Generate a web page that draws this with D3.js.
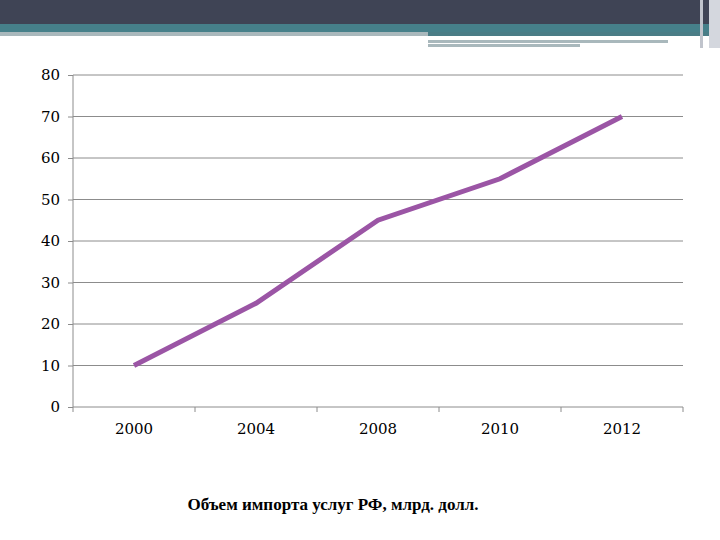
<!DOCTYPE html><html><head><meta charset="utf-8"><script src="https://d3js.org/d3.v7.min.js"></script><style>body{margin:0}</style></head><body><script>
const categories=["2000","2004","2008","2010","2012"];
const values=[10,25,45,55,70];
const yTicks=[0,10,20,30,40,50,60,70,80];
const title="Объем импорта услуг РФ, млрд. долл.";
const svg=d3.select("body").append("svg").attr("width",720).attr("height",540);
svg.append("rect").attr("width",720).attr("height",540).attr("fill","#fff");
svg.append("rect").attr("width",720).attr("height",24).attr("fill","#3f4455");
svg.append("rect").attr("y",24).attr("width",720).attr("height",8).attr("fill","#46808a");
svg.append("rect").attr("y",32).attr("width",428).attr("height",4).attr("fill","#a9b8bc");
svg.append("rect").attr("x",428).attr("y",32).attr("width",292).attr("height",4).attr("fill","#4a7d86");
svg.append("rect").attr("x",428).attr("y",40).attr("width",240).attr("height",3).attr("fill","#a9b8bc");
svg.append("rect").attr("x",428).attr("y",44).attr("width",152).attr("height",3).attr("fill","#a9b8bc");
svg.append("rect").attr("x",700).attr("y",0).attr("width",3).attr("height",48).attr("fill","#c0c4cc");
svg.append("rect").attr("x",709).attr("y",0).attr("width",11).attr("height",48).attr("fill","#d4d7de");
const x=d3.scaleBand().domain(categories).range([73,683]);
const y=d3.scaleLinear().domain([0,80]).range([407,75]);
const f="'DejaVu Serif',serif";
svg.append("g").selectAll("line").data(yTicks.slice(1)).join("line")
 .attr("x1",73).attr("x2",683).attr("y1",d=>y(d)).attr("y2",d=>y(d)).attr("stroke","#8c8c8c");
const ya=svg.append("g").attr("transform","translate(73,0)").call(d3.axisLeft(y).tickValues(yTicks).tickSize(5).tickPadding(8));
ya.selectAll("text").attr("font-family",f).attr("font-size",15).attr("fill","#000");
ya.selectAll("line,path").attr("stroke","#8c8c8c");
ya.select("path").attr("d","M0,75V407");
const xa=svg.append("g").attr("transform","translate(0,407)").call(d3.axisBottom(x).tickSize(0).tickPadding(16));
xa.selectAll("text").attr("font-family",f).attr("font-size",15).attr("fill","#000");
xa.select("path").attr("stroke","#8c8c8c").attr("d","M73,0H683");
svg.append("g").selectAll("line").data(categories.map((c,i)=>x(c)).concat([683])).join("line")
 .attr("x1",d=>d).attr("x2",d=>d).attr("y1",407).attr("y2",412).attr("stroke","#8c8c8c");
svg.append("path").datum(values).attr("fill","none").attr("stroke","#9b55a5").attr("stroke-width",5)
 .attr("d",d3.line().x((d,i)=>x(categories[i])+x.bandwidth()/2).y(d=>y(d)));
svg.append("text").attr("x",333).attr("y",510).attr("text-anchor","middle").attr("font-family","'Liberation Serif',serif")
 .attr("font-weight","bold").attr("font-size",17).text(title);
</script></body></html>
